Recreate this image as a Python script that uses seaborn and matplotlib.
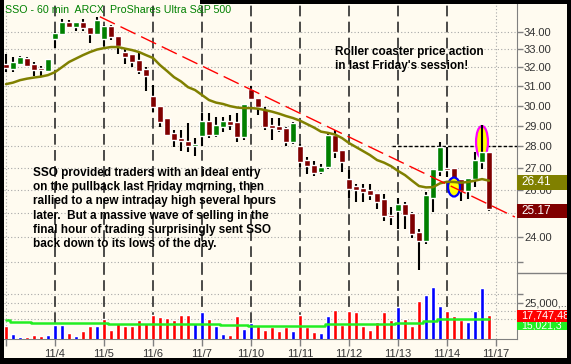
import numpy as np
import matplotlib.pyplot as plt
import seaborn as sns
from matplotlib.patches import Ellipse, Rectangle
from matplotlib.lines import Line2D
from matplotlib.ticker import FixedLocator, FixedFormatter, NullLocator

sns.set_style('white')
plt.rcParams['font.family'] = ['Liberation Sans', 'DejaVu Sans']

# ---- data (60 min bars) ----
day_labels = ['', '11/4', '11/5', '11/6', '11/7', '11/10', '11/11', '11/12', '11/13', '11/14', '11/17']
bars_per_day = 7

opens = [32.19, 31.92, 32.19, 32.50, 32.19, 31.98, 31.83, 33.57, 33.85, 34.55,
         34.30, 34.55, 34.30, 33.87, 33.57, 34.33, 33.75, 32.87, 32.73, 32.41,
         31.92, 30.50, 29.99, 29.39, 28.61, 28.37, 28.27, 27.99, 28.51, 29.24,
         28.56, 28.95, 29.24, 29.15, 28.42, 30.86, 30.40, 29.84, 29.05, 29.00,
         28.90, 28.18, 27.99, 27.34, 27.11, 26.80, 27.02, 28.56, 27.81, 26.48,
         26.17, 26.08, 26.00, 25.87, 25.58, 24.93, 25.10, 25.39, 25.01, 24.22,
         23.86, 25.65, 26.84, 26.98, 26.98, 26.48, 25.95, 26.48, 27.25, 27.71]
highs = [32.75, 32.57, 32.63, 32.57, 32.32, 32.06, 32.46, 33.96, 34.72, 34.70,
         34.57, 34.72, 34.30, 34.84, 34.39, 34.39, 33.75, 33.00, 32.73, 32.79,
         32.03, 31.07, 29.99, 29.39, 28.80, 28.80, 29.10, 28.37, 29.64, 29.64,
         29.44, 29.44, 29.54, 29.64, 30.09, 31.02, 30.40, 29.94, 29.39, 29.39,
         28.95, 29.15, 28.09, 27.48, 27.30, 27.16, 28.66, 28.80, 27.81, 26.89,
         26.26, 26.26, 26.26, 25.87, 25.82, 25.26, 25.65, 25.48, 25.05, 24.31,
         25.91, 26.93, 28.18, 27.95, 26.98, 26.48, 26.53, 27.71, 29.05, 27.71]
lows = [31.78, 31.78, 32.14, 32.05, 31.55, 31.55, 31.73, 33.09, 33.84, 34.20,
        34.06, 34.06, 33.37, 33.87, 33.20, 33.52, 32.73, 32.19, 32.03, 31.65,
        30.77, 29.69, 28.95, 28.51, 27.95, 27.76, 27.71, 27.53, 27.99, 28.37,
        28.46, 28.70, 28.80, 28.18, 28.32, 30.35, 29.54, 28.80, 28.32, 28.66,
        27.99, 28.09, 27.02, 26.71, 26.62, 26.71, 26.93, 27.43, 26.80, 25.65,
        25.48, 25.48, 25.56, 25.18, 24.68, 24.51, 24.35, 24.35, 23.98, 22.70,
        23.70, 25.05, 26.62, 26.57, 26.04, 25.52, 25.61, 26.13, 26.93, 25.10]
closes = [31.96, 32.32, 32.59, 32.10, 31.87, 31.87, 32.45, 33.94, 34.59, 34.30,
          34.55, 34.20, 33.87, 34.68, 34.33, 33.71, 33.20, 32.59, 32.32, 31.83,
          31.55, 29.94, 29.19, 28.56, 28.32, 28.23, 27.99, 28.09, 29.24, 28.56,
          29.05, 29.24, 29.05, 28.42, 30.09, 30.35, 29.94, 28.95, 28.90, 28.80,
          28.18, 29.10, 27.25, 27.07, 26.75, 27.02, 28.56, 27.71, 27.25, 26.04,
          26.00, 25.91, 25.78, 25.48, 24.89, 24.85, 25.39, 24.93, 24.14, 23.86,
          25.78, 26.93, 27.95, 26.89, 26.17, 25.95, 26.53, 27.34, 27.71, 25.17]
ma20 = [31.11, 31.19, 31.32, 31.40, 31.46, 31.51, 31.59, 31.75, 32.02, 32.30,
        32.49, 32.68, 32.85, 32.99, 33.07, 33.13, 33.13, 33.04, 32.96, 32.85,
        32.68, 32.52, 32.13, 31.81, 31.48, 31.25, 30.95, 30.80, 30.54, 30.28,
        30.15, 30.08, 29.97, 29.90, 29.87, 29.87, 29.84, 29.77, 29.69, 29.59,
        29.47, 29.37, 29.24, 29.07, 28.90, 28.70, 28.64, 28.56, 28.39, 28.15,
        27.96, 27.77, 27.58, 27.35, 27.23, 27.07, 26.85, 26.66, 26.41, 26.17,
        26.11, 26.12, 26.29, 26.36, 26.35, 26.32, 26.35, 26.41, 26.48, 26.41]
# volume in millions of shares
volume = [10.8, 6.0, 4.2, 4.2, 5.4, 4.8, 5.4, 11.4, 11.4, 6.6,
          4.8, 7.8, 10.8, 10.8, 15.1, 8.4, 12.7, 10.8, 10.8, 14.5,
          12.7, 17.5, 16.3, 15.7, 14.5, 17.5, 17.5, 12.7, 19.3, 15.1,
          10.8, 6.0, 5.4, 16.9, 9.0, 12.7, 10.8, 8.4, 10.2, 7.8,
          10.2, 7.8, 17.5, 10.2, 7.2, 6.6, 16.9, 20.5, 11.4, 19.9,
          19.3, 10.8, 8.4, 13.3, 19.3, 14.5, 22.3, 15.1, 10.8, 25.9,
          29.5, 34.3, 22.9, 19.9, 16.9, 14.5, 13.3, 19.9, 33.7, 17.75]
vol_avg = [14.2, 13.4, 13.4, 13.4, 12.8, 12.8, 12.8, 12.5, 12.5, 12.5,
           12.5, 12.5, 12.5, 12.5, 12.5, 12.0, 12.0, 12.0, 12.0, 12.0,
           12.0, 12.0, 12.0, 12.0, 12.0, 12.0, 12.0, 12.0, 12.0, 12.0,
           12.0, 11.6, 11.6, 11.6, 11.6, 11.0, 11.0, 11.0, 11.0, 11.0,
           11.0, 11.0, 11.0, 11.0, 11.0, 11.0, 11.9, 11.9, 11.9, 11.9,
           11.9, 11.9, 11.9, 11.9, 11.9, 11.9, 12.8, 12.8, 12.8, 12.8,
           13.6, 13.6, 14.9, 14.9, 14.9, 14.9, 14.9, 14.9, 14.9, 14.9]
trend_x = [13.4, 72.7]
trend_y = [34.88, 24.83]
last_close_txt = '25.17'
last_ma_txt = '26.41'
last_vol_txt = '17,747,48'
avg_vol_txt = '15,021,3'

CREAM = '#fffbf0'
GREEN = '#008000'
MAROON = '#800000'
OLIVE = '#808000'
GRAY = '#808080'
W, H = 571, 364

fig = plt.figure(figsize=(W / 100, H / 100), dpi=100, facecolor=CREAM)


def fbox(x0, y0, x1, y1):
    return [x0 / W, 1 - y1 / H, (x1 - x0) / W, (y1 - y0) / H]


ax_p = fig.add_axes(fbox(4, 4, 517, 273))
ax_v = fig.add_axes(fbox(4, 273, 517, 339), sharex=ax_p)

idx = np.arange(len(closes))
o, h, l, c = map(np.array, (opens, highs, lows, closes))

for ax in (ax_p, ax_v):
    ax.set_facecolor(CREAM)
    for s in ('top', 'left'):
        ax.spines[s].set_visible(False)
    ax.spines['right'].set_color(GRAY)
    ax.spines['bottom'].set_visible(False)
    ax.yaxis.tick_right()
    ax.tick_params(axis='y', length=4, width=1, color=GRAY, labelsize=8,
                   labelcolor='#333333', pad=1)
    ax.grid(axis='y', color='#a8a8a8', linestyle=(0, (1, 2)), lw=0.8)
    ax.grid(axis='x', visible=False)
    for k in range(1, len(day_labels) - 1):
        ax.axvline(k * bars_per_day, color='#1a1a1a', lw=1.1, ls=(0, (7, 3.5)), zorder=1)
    ax.axvline(0, color='#a8a8a8', lw=0.8, ls=(0, (1, 2)), zorder=1)
    ax.axvline((len(day_labels) - 1) * bars_per_day, color='#a8a8a8', lw=0.8,
               ls=(0, (1, 2)), zorder=1)

ax_p.set_xlim(-0.29, 73.0)

# ---- price panel ----
ax_p.set_yscale('log')
ax_p.set_ylim(22.58, 35.64)
pticks = list(range(23, 35))
ax_p.yaxis.set_major_locator(FixedLocator(pticks))
ax_p.yaxis.set_major_formatter(FixedFormatter(['' if t in (23, 25) else f'{t:.2f}' for t in pticks]))
ax_p.yaxis.set_minor_locator(NullLocator())
ax_p.tick_params(axis='x', bottom=False, labelbottom=False)

ax_p.vlines(idx, l, h, color='black', lw=1.5, zorder=3)
body_lo = np.minimum(o, c)
body_h = np.maximum(np.abs(c - o), 0.05)
ax_p.bar(idx, body_h, bottom=body_lo, width=0.82,
         color=np.where(c >= o, GREEN, MAROON), zorder=4)

sns.lineplot(x=idx, y=ma20, ax=ax_p, color=OLIVE, lw=1.8, zorder=5)
ax_p.plot(trend_x, trend_y, color='red', lw=1, ls=(0, (12, 4.5)), zorder=6)
ax_p.hlines(28, 55.1, 73, color='black', lw=1, ls=(0, (2.5, 1.5)), zorder=2.5)

ax_p.add_patch(Ellipse((64.0, 26.13), 1.7, 0.84, fc='yellow', ec='blue', lw=1.6, zorder=4.2))
ax_p.add_patch(Ellipse((68.0, 28.2), 1.7, 1.55, fc='yellow', ec='magenta', lw=1.6, zorder=2.8))

# ---- volume panel ----
ax_v.set_ylim(3.0, 42.8)
vticks = [15, 20, 25, 30]
ax_v.yaxis.set_major_locator(FixedLocator(vticks))
ax_v.yaxis.set_major_formatter(FixedFormatter(['', '', '25,000,...', '']))
ax_v.spines['bottom'].set_visible(True)
ax_v.spines['bottom'].set_color(GRAY)
vcol = ['red'] + ['blue' if c[i] > c[i - 1] else 'red' for i in range(1, len(c))]
ax_v.bar(idx, volume, width=0.45, color=vcol, zorder=3)
sns.lineplot(x=idx, y=vol_avg, ax=ax_v, color='#22ee22', lw=1.8,
             drawstyle='steps-mid', zorder=4)
ax_v.set_xticks([k * bars_per_day for k in range(len(day_labels))])
ax_v.set_xticklabels(day_labels)
ax_v.tick_params(axis='x', bottom=True, length=5, width=1, color=GRAY, labelsize=8,
                 labelcolor='#333333', pad=2)
ax_v.set_xlabel('')
ax_v.set_ylabel('')
ax_p.set_xlabel('')
ax_p.set_ylabel('')


# ---- right-hand value boxes ----
def ypix(ax, v):
    return H - ax.transData.transform((0, v))[1]


def value_box(yc, hgt, fc, txt, fs=8.5):
    rect = Rectangle((517 / W, 1 - (yc + hgt / 2) / H), 50 / W, hgt / H,
                     transform=fig.transFigure, fc=fc, ec='none', zorder=10)
    fig.add_artist(rect)
    t = fig.text(521 / W, 1 - yc / H, txt, color='white', fontsize=fs,
                 va='center', ha='left', zorder=11)
    t.set_clip_path(rect)


value_box(ypix(ax_p, ma20[-1]) + 1.5, 15, OLIVE, last_ma_txt)
value_box(ypix(ax_p, closes[-1]) + 2.5, 14, MAROON, last_close_txt)
yv = ypix(ax_v, volume[-1]) + 1
value_box(yv + 10, 8, '#22ee22', avg_vol_txt, fs=7.5)
value_box(yv, 12, 'red', last_vol_txt, fs=7.8)

# separator in the scale area and frame
fig.add_artist(Line2D([517 / W, 567 / W], [1 - 273 / H, 1 - 273 / H], color=GRAY, lw=1))
for x0, y0, w, hh in [(0, 0, 4, H), (567, 0, 4, H), (0, 358, W, 6), (200, 0, W - 200, 4)]:
    fig.add_artist(Rectangle((x0 / W, 1 - (y0 + hh) / H), w / W, hh / H,
                             transform=fig.transFigure, fc='black', ec='none', zorder=20))

# ---- texts ----
fig.text(5 / W, 1 - 5 / H, 'SSO - 60 min  ARCX  ProShares Ultra S&P 500',
         color=GREEN, fontsize=7.7, va='top', ha='left')
fig.text(335 / W, 1 - 46 / H, "Roller coaster price action\nin last Friday's session!",
         color='black', fontsize=8.5, fontweight='bold', va='top', ha='left', linespacing=1.25)
fig.text(33 / W, 1 - 167 / H,
         'SSO provided traders with an ideal entry\n'
         'on the pullback last Friday morning, then\n'
         'rallied to a new intraday high several hours\n'
         'later.  But a massive wave of selling in the\n'
         'final hour of trading surprisingly sent SSO\n'
         'back down to its lows of the day.',
         color='black', fontsize=8.5, fontweight='bold', va='top', ha='left', linespacing=1.25)

fig.savefig('out.png', dpi=100, facecolor=fig.get_facecolor())
